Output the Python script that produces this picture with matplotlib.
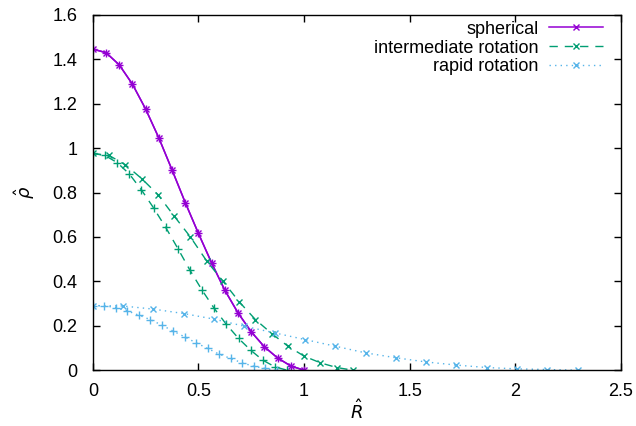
import numpy as np
import matplotlib
matplotlib.use("Agg")
import matplotlib.pyplot as plt
from matplotlib.ticker import FuncFormatter

plt.rcParams['font.family'] = ['Liberation Sans', 'DejaVu Sans']
plt.rcParams['mathtext.fontset'] = 'dejavusans'

# spherical (equatorial and polar profiles coincide)
sph_r = np.linspace(0, 1.0, 17)
sph_rho = [1.446, 1.43, 1.375, 1.288, 1.176, 1.046, 0.902, 0.755, 0.616,
           0.483, 0.36, 0.258, 0.173, 0.105, 0.055, 0.019, 0.0]

# intermediate rotation
int_eq_r = np.linspace(0, 1.232, 17)
int_eq_rho = [0.976, 0.967, 0.925, 0.863, 0.791, 0.694, 0.6, 0.492, 0.401,
              0.308, 0.228, 0.165, 0.108, 0.063, 0.033, 0.012, 0.0]
int_pol_r = np.linspace(0, 0.92, 17)
int_pol_rho = [0.976, 0.967, 0.935, 0.884, 0.812, 0.731, 0.643, 0.548, 0.45,
               0.36, 0.278, 0.206, 0.143, 0.09, 0.045, 0.015, 0.0]

# rapid rotation
rap_eq_r = np.linspace(0, 2.296, 17)
rap_eq_rho = [0.291, 0.289, 0.275, 0.255, 0.23, 0.198, 0.168, 0.138, 0.108,
              0.078, 0.056, 0.037, 0.023, 0.012, 0.006, 0.003, 0.0]
rap_pol_r = np.linspace(0, 0.87, 17)
rap_pol_rho = [0.291, 0.29, 0.282, 0.267, 0.248, 0.228, 0.203, 0.176, 0.15,
               0.123, 0.098, 0.072, 0.053, 0.033, 0.018, 0.008, 0.0]

purple = '#9400D3'
green = '#009E73'
blue = '#56B4E9'

fig = plt.figure(figsize=(6.36, 4.26), dpi=100)
ax = fig.add_axes([0.146, 0.131, 0.830, 0.834])

ms = 5
ax.plot(sph_r, sph_rho, color=purple, lw=1.1, marker='x', ms=ms, mew=1, label='spherical')
ax.plot(sph_r, sph_rho, color=purple, lw=1.1, marker='+', ms=ms + 1, mew=1)

dash = (0, (6, 5))
ax.plot(int_eq_r, int_eq_rho, color=green, lw=1, ls=dash, marker='x', ms=ms, mew=1,
        label='intermediate rotation')
ax.plot(int_pol_r, int_pol_rho, color=green, lw=1, ls=dash, marker='+', ms=ms + 1, mew=1)

dot = (0, (1, 3))
ax.plot(rap_eq_r, rap_eq_rho, color=blue, lw=1, ls=dot, marker='x', ms=ms, mew=1,
        label='rapid rotation')
ax.plot(rap_pol_r, rap_pol_rho, color=blue, lw=1, ls=dot, marker='+', ms=ms + 1, mew=1)

ax.set_xlim(0, 2.5)
ax.set_ylim(0, 1.6)
ax.set_xticks(np.arange(0, 2.51, 0.5))
ax.set_yticks(np.arange(0, 1.61, 0.2))
ax.xaxis.set_major_formatter(FuncFormatter(lambda v, p: '%g' % round(v, 2)))
ax.yaxis.set_major_formatter(FuncFormatter(lambda v, p: '%g' % round(v, 2)))
ax.tick_params(direction='in', length=5, width=1, top=True, right=True,
               labelsize=13)
ax.tick_params(axis='x', pad=9)
ax.tick_params(axis='y', pad=11)
for s in ax.spines.values():
    s.set_linewidth(1)

ax.set_xlabel(r'$\hat{R}$', fontsize=13, labelpad=0)
ax.set_ylabel(r'$\hat{\rho}$', fontsize=13, labelpad=11)

ax.legend(loc='upper right', markerfirst=False, frameon=False, fontsize=13,
          handlelength=3.0, handletextpad=0.55, labelspacing=0.1,
          borderaxespad=0.0, bbox_to_anchor=(0.98, 1.004))

fig.savefig('out.png', dpi=100)
